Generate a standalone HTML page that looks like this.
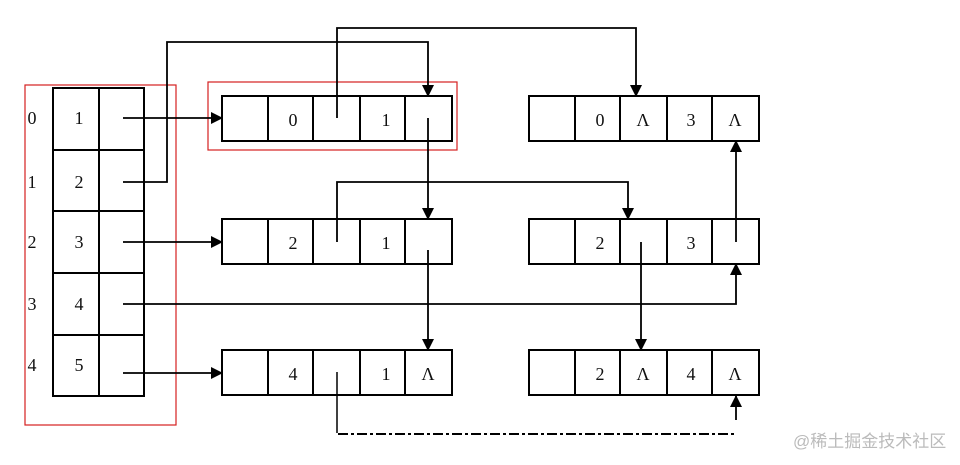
<!DOCTYPE html>
<html><head><meta charset="utf-8"><style>
body{margin:0;background:#fff;width:960px;height:460px;overflow:hidden}
svg text{font-family:"Liberation Serif",serif;font-size:18px;fill:#111}
</style></head><body>
<svg width="960" height="460" viewBox="0 0 960 460">
<defs><marker id="a" markerWidth="12" markerHeight="12" refX="11" refY="6" orient="auto" markerUnits="userSpaceOnUse"><path d="M0,0 L12,6 L0,12 z" fill="#000"/></marker></defs>
<g fill="none" stroke="#d42020" stroke-width="1.2">
<rect x="25" y="85" width="151" height="340"/>
<rect x="208" y="82" width="249" height="68"/>
</g>
<g fill="none" stroke="#000" stroke-width="2">
<rect x="53" y="88" width="91" height="308"/>
<line x1="99" y1="88" x2="99" y2="396"/>
<line x1="53" y1="150" x2="144" y2="150"/><line x1="53" y1="211" x2="144" y2="211"/>
<line x1="53" y1="273" x2="144" y2="273"/><line x1="53" y1="335" x2="144" y2="335"/>
<g id="n"><rect x="222" y="96" width="230" height="45"/><line x1="268" y1="96" x2="268" y2="141"/><line x1="313" y1="96" x2="313" y2="141"/><line x1="360" y1="96" x2="360" y2="141"/><line x1="405" y1="96" x2="405" y2="141"/></g>
<use href="#n" y="123"/><use href="#n" y="254"/>
<use href="#n" x="307"/><use href="#n" x="307" y="123"/><use href="#n" x="307" y="254"/>
</g>
<g fill="none" stroke="#000" stroke-width="1.8" marker-end="url(#a)">
<polyline points="123,118 222,118"/>
<polyline points="123,182 167,182 167,42 428,42 428,96"/>
<polyline points="123,242 222,242"/>
<polyline points="123,304 736,304 736,264"/>
<polyline points="123,373 222,373"/>
<polyline points="337,118 337,28 636,28 636,96"/>
<polyline points="428,118 428,219"/>
<polyline points="337,242 337,182 628,182 628,219"/>
<polyline points="428,250 428,350"/>
<polyline points="641,242 641,350"/>
<polyline points="736,242 736,141"/>
<polyline points="736,420 736,396"/>
</g>
<polyline points="337,372 337,433" fill="none" stroke="#000" stroke-width="1.5"/>
<line x1="338" y1="434" x2="736" y2="434" stroke="#000" stroke-width="2" stroke-dasharray="10,3,3,3"/>
<g text-anchor="middle">
<text x="32" y="124">0</text><text x="32" y="188">1</text><text x="32" y="248">2</text><text x="32" y="310">3</text><text x="32" y="371">4</text>
<text x="79" y="124">1</text><text x="79" y="188">2</text><text x="79" y="248">3</text><text x="79" y="310">4</text><text x="79" y="371">5</text>
<text x="293" y="126">0</text><text x="386" y="126">1</text>
<text x="293" y="249">2</text><text x="386" y="249">1</text>
<text x="293" y="380">4</text><text x="386" y="380">1</text><text x="428" y="380">&#923;</text>
<text x="600" y="126">0</text><text x="643" y="126">&#923;</text><text x="691" y="126">3</text><text x="735" y="126">&#923;</text>
<text x="600" y="249">2</text><text x="691" y="249">3</text>
<text x="600" y="380">2</text><text x="643" y="380">&#923;</text><text x="691" y="380">4</text><text x="735" y="380">&#923;</text>
</g>
<text x="793" y="447" style="font-family:'Liberation Sans','Noto Sans CJK SC',sans-serif;font-size:17px;fill:#bbb">@稀土掘金技术社区</text>
</svg>
</body></html>
